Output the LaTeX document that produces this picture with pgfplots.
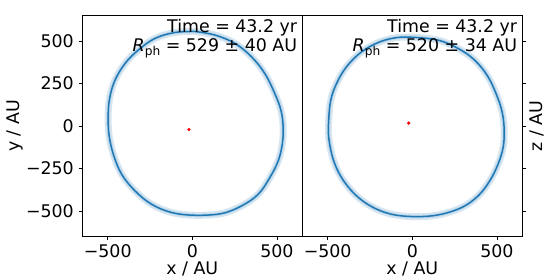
\documentclass[border=0pt]{standalone}
\usepackage{fontspec}
\setmainfont{DejaVu Sans}
\usepackage{pgfplots}
\pgfplotsset{compat=1.18}
\definecolor{tabblue}{HTML}{1F77B4}
\pgfplotsset{
  myax/.style={
    scale only axis, width=220bp, height=221bp,
    xmin=-650, xmax=650, ymin=-650, ymax=650,
    xtick={-500,0,500}, xticklabels={−500,0,500},
    ytick={-500,-250,0,250,500},
    tick align=outside, major tick length=3.5bp,
    every tick/.style={black, line width=0.8bp},
    axis line style={black, line width=0.8bp},
    xlabel={x / AU},
    xlabel style={at={(axis description cs:0.5,-0.1697)}, anchor=base, inner sep=0pt},
    xticklabel style={anchor=base, inner sep=0pt, yshift=-17.4bp},
    xtick pos=left,
  },
  band/.style={tabblue, opacity=0.18, line width=7bp, smooth, tension=0.6, no marks},
  band2/.style={tabblue, opacity=0.15, line width=3.5bp, smooth, tension=0.6, no marks},
  curve/.style={tabblue, line width=1.5bp, smooth, tension=0.6, no marks},
}
\begin{document}
\fontsize{17.4bp}{21bp}\selectfont
\begin{tikzpicture}
\begin{axis}[myax, name=ax1, at={(0,0)}, anchor=south west,
  yticklabels={−500,−250,0,250,500},
  ytick pos=left,
  yticklabel style={anchor=east, inner sep=0pt, xshift=-4.8bp},
  ylabel={y / AU},
  ylabel style={at={(axis description cs:-0.267,0.5)}, anchor=south, inner sep=0pt},
]
\addplot[band] coordinates {(15,556) (134,535) (252,486) (350,407) (429,308) (488,190) (524,92) (537,-7) (532,-105) (508,-204) (459,-302) (390,-401) (291,-470) (173,-515) (15,-525) (-122,-509) (-241,-460) (-339,-381) (-418,-283) (-467,-165) (-493,-46) (-497,72) (-487,170) (-457,269) (-398,367) (-320,446) (-221,515) (-103,550) (15,556)};
\addplot[band2] coordinates {(15,556) (134,535) (252,486) (350,407) (429,308) (488,190) (524,92) (537,-7) (532,-105) (508,-204) (459,-302) (390,-401) (291,-470) (173,-515) (15,-525) (-122,-509) (-241,-460) (-339,-381) (-418,-283) (-467,-165) (-493,-46) (-497,72) (-487,170) (-457,269) (-398,367) (-320,446) (-221,515) (-103,550) (15,556)};
\addplot[curve] coordinates {(15,556) (134,535) (252,486) (350,407) (429,308) (488,190) (524,92) (537,-7) (532,-105) (508,-204) (459,-302) (390,-401) (291,-470) (173,-515) (15,-525) (-122,-509) (-241,-460) (-339,-381) (-418,-283) (-467,-165) (-493,-46) (-497,72) (-487,170) (-457,269) (-398,367) (-320,446) (-221,515) (-103,550) (15,556)};
\addplot[only marks, mark=*, red, mark size=1.4bp] coordinates {(-20,-21)};
\node[anchor=base east, inner sep=0pt] at ([xshift=-5bp,yshift=-17.3bp]rel axis cs:1,1) {Time = 43.2 yr};
\node[anchor=base east, inner sep=0pt] at ([xshift=-5bp,yshift=-35.7bp]rel axis cs:1,1) {\textit{R}\raisebox{-0.22em}{\fontsize{12.2bp}{13bp}\selectfont ph} = 529 ± 40 AU};
\end{axis}
\begin{axis}[myax, name=ax2, at={(ax1.south east)}, anchor=south west,
  yticklabels={,,,,},
  ytick pos=right,
  ylabel={z / AU},
  ylabel style={at={(axis description cs:1.033,0.5)}, anchor=north, inner sep=0pt},
]
\addplot[band] coordinates {(15,521) (153,505) (271,456) (369,387) (448,289) (503,170) (533,72) (543,-27) (537,-125) (507,-224) (458,-322) (389,-411) (291,-480) (153,-523) (15,-533) (-123,-519) (-241,-474) (-340,-401) (-419,-302) (-468,-194) (-494,-66) (-494,33) (-482,151) (-448,249) (-389,348) (-300,436) (-192,495) (-84,521) (15,521)};
\addplot[band2] coordinates {(15,521) (153,505) (271,456) (369,387) (448,289) (503,170) (533,72) (543,-27) (537,-125) (507,-224) (458,-322) (389,-411) (291,-480) (153,-523) (15,-533) (-123,-519) (-241,-474) (-340,-401) (-419,-302) (-468,-194) (-494,-66) (-494,33) (-482,151) (-448,249) (-389,348) (-300,436) (-192,495) (-84,521) (15,521)};
\addplot[curve] coordinates {(15,521) (153,505) (271,456) (369,387) (448,289) (503,170) (533,72) (543,-27) (537,-125) (507,-224) (458,-322) (389,-411) (291,-480) (153,-523) (15,-533) (-123,-519) (-241,-474) (-340,-401) (-419,-302) (-468,-194) (-494,-66) (-494,33) (-482,151) (-448,249) (-389,348) (-300,436) (-192,495) (-84,521) (15,521)};
\addplot[only marks, mark=*, red, mark size=1.4bp] coordinates {(-21,17)};
\node[anchor=base east, inner sep=0pt] at ([xshift=-5bp,yshift=-17.3bp]rel axis cs:1,1) {Time = 43.2 yr};
\node[anchor=base east, inner sep=0pt] at ([xshift=-5bp,yshift=-35.7bp]rel axis cs:1,1) {\textit{R}\raisebox{-0.22em}{\fontsize{12.2bp}{13bp}\selectfont ph} = 520 ± 34 AU};
\end{axis}
\pgfresetboundingbox
\path (-82.3bp,-40.5bp) rectangle (467.7bp,236.5bp);
\end{tikzpicture}
\end{document}
